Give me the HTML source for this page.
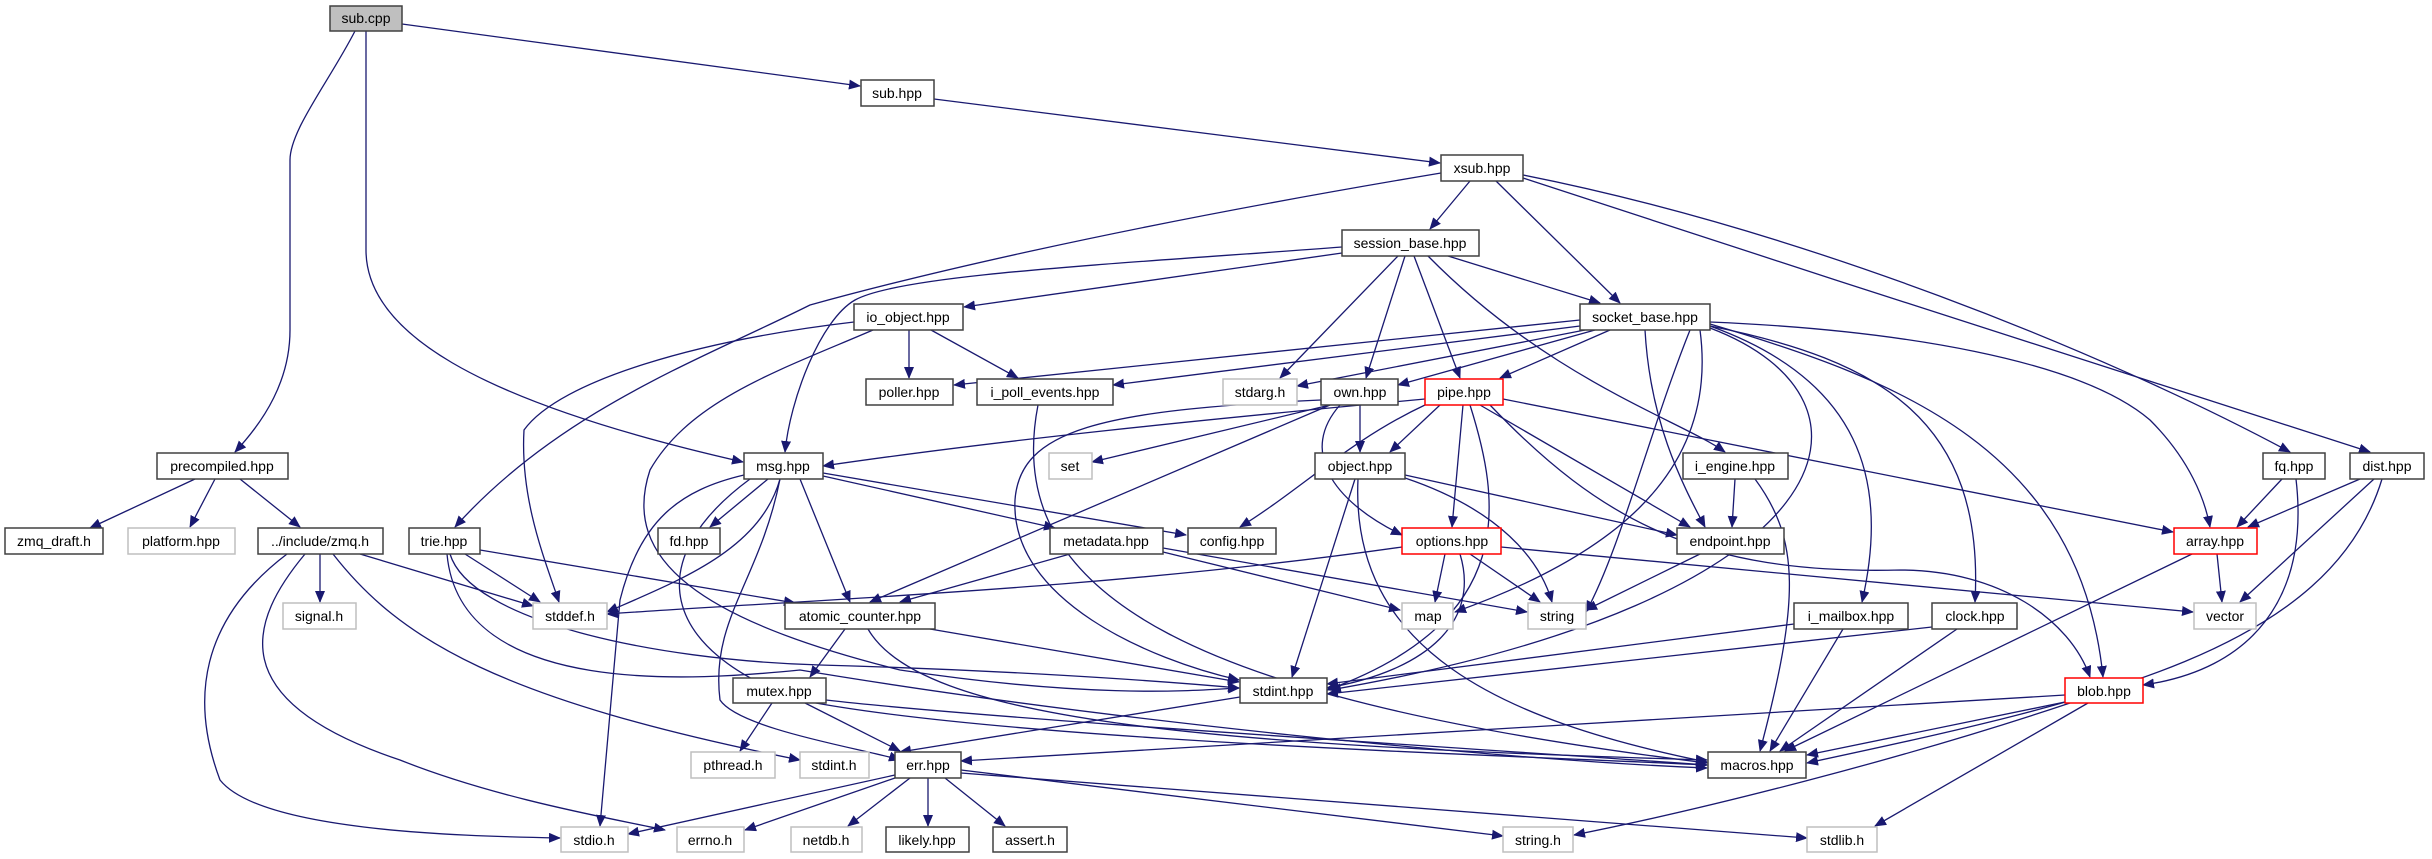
<!DOCTYPE html>
<html><head><meta charset="utf-8"><style>
html,body{margin:0;padding:0;background:#fff;}
svg{display:block;}
text{font-family:"Liberation Sans",sans-serif;font-size:14px;text-anchor:middle;fill:#000;}
.e{fill:none;stroke:#191970;stroke-width:1.3;marker-end:url(#a);}
.n{fill:#fff;stroke:#404040;stroke-width:1.5;}
.g{fill:#fff;stroke:#bfbfbf;stroke-width:1.5;}
.r{fill:#fff;stroke:#ff0000;stroke-width:1.5;}
</style></head><body>
<svg width="2432" height="859" viewBox="0 0 2432 859" xmlns="http://www.w3.org/2000/svg">
<defs><marker id="a" markerUnits="userSpaceOnUse" markerWidth="12" markerHeight="10" refX="11" refY="5" orient="auto"><path d="M0,0 L12,5 L0,10 z" fill="#191970"/></marker></defs>
<g>
<path class="e" d="M402,24 L860,86"/>
<path class="e" d="M355,31 C330,80 290,130 290,160 L290,330 C290,380 265,420 235,452"/>
<path class="e" d="M366,31 L366,250 C366,330 470,400 743,462"/>
<path class="e" d="M934,99 L1440,163"/>
<path class="e" d="M1470,181 L1430,229"/>
<path class="e" d="M1496,181 L1620,303"/>
<path class="e" d="M1441,173 C1100,230 900,280 810,305 C700,360 560,410 455,527"/>
<path class="e" d="M1523,175 C1800,230 2100,350 2290,452"/>
<path class="e" d="M1523,178 C1800,270 2150,380 2370,452"/>
<path class="e" d="M1342,253 L964,307"/>
<path class="e" d="M1342,247 C1100,265 900,275 855,300 C820,320 790,400 785,452"/>
<path class="e" d="M1398,256 L1280,378"/>
<path class="e" d="M1405,256 L1366,378"/>
<path class="e" d="M1414,256 L1460,378"/>
<path class="e" d="M1448,256 L1600,303"/>
<path class="e" d="M1428,256 C1550,380 1680,420 1725,452"/>
<path class="e" d="M909,330 L909,378"/>
<path class="e" d="M931,330 L1018,378"/>
<path class="e" d="M854,322 C700,340 560,380 524,430 C520,500 545,560 559,602"/>
<path class="e" d="M873,330 C780,370 690,400 650,470 C620,560 700,620 900,670 C1100,700 1200,690 1239,688"/>
<path class="e" d="M1580,320 L954,385"/>
<path class="e" d="M1580,326 L1113,385"/>
<path class="e" d="M1585,330 L1297,386"/>
<path class="e" d="M1595,330 L1398,385"/>
<path class="e" d="M1610,330 L1500,378"/>
<path class="e" d="M1645,330 C1650,420 1680,480 1705,527"/>
<path class="e" d="M1710,322 C1900,330 2080,360 2150,420 C2190,460 2205,500 2210,527"/>
<path class="e" d="M1710,324 C1900,380 2080,450 2103,677"/>
<path class="e" d="M1710,326 C1880,360 1985,420 1975,602"/>
<path class="e" d="M1710,326 C1860,380 1890,480 1862,602"/>
<path class="e" d="M1690,330 C1650,430 1620,550 1586,612"/>
<path class="e" d="M1700,330 C1720,480 1600,560 1455,612"/>
<path class="e" d="M1710,328 C1900,400 1850,600 1330,690"/>
<path class="e" d="M1038,405 C1000,600 1200,700 1707,763"/>
<path class="e" d="M1330,405 L1092,462"/>
<path class="e" d="M1360,405 L1360,452"/>
<path class="e" d="M1340,405 C1300,450 1330,500 1402,535"/>
<path class="e" d="M1330,405 L870,602"/>
<path class="e" d="M1321,400 C1100,410 1020,430 1015,500 C1010,600 1150,660 1239,680"/>
<path class="e" d="M1425,399 C1200,420 1000,440 823,466"/>
<path class="e" d="M1440,405 L1390,452"/>
<path class="e" d="M1463,405 L1452,527"/>
<path class="e" d="M1503,399 L2173,532"/>
<path class="e" d="M1425,405 C1350,440 1300,490 1240,527"/>
<path class="e" d="M1480,405 L1690,527"/>
<path class="e" d="M1470,405 C1500,500 1520,620 1327,690"/>
<path class="e" d="M1490,405 C1600,520 1700,575 1900,570 C2000,570 2070,620 2090,677"/>
<path class="e" d="M195,479 L90,528"/>
<path class="e" d="M215,479 L190,527"/>
<path class="e" d="M240,479 L300,527"/>
<path class="e" d="M768,479 L710,527"/>
<path class="e" d="M780,479 C760,550 680,580 607,612"/>
<path class="e" d="M823,473 L1186,535"/>
<path class="e" d="M823,476 L1055,528"/>
<path class="e" d="M800,479 L850,602"/>
<path class="e" d="M780,479 C760,580 710,620 720,700 C740,730 870,750 900,760"/>
<path class="e" d="M744,475 C680,490 640,520 620,600 L600,826"/>
<path class="e" d="M750,479 C640,560 660,650 800,700 C1000,740 1500,755 1707,765"/>
<path class="e" d="M1405,475 L1677,535"/>
<path class="e" d="M1405,478 C1500,510 1540,560 1552,602"/>
<path class="e" d="M1355,479 L1292,677"/>
<path class="e" d="M1358,479 C1350,650 1500,720 1707,762"/>
<path class="e" d="M1735,479 L1732,527"/>
<path class="e" d="M1755,479 C1800,540 1800,600 1760,751"/>
<path class="e" d="M2282,479 L2237,527"/>
<path class="e" d="M2296,479 C2310,600 2250,670 2143,685"/>
<path class="e" d="M2360,479 L2248,527"/>
<path class="e" d="M2374,479 L2240,602"/>
<path class="e" d="M2382,479 C2330,650 2100,700 1807,763"/>
<path class="e" d="M320,554 L320,602"/>
<path class="e" d="M360,554 L533,606"/>
<path class="e" d="M333,554 C400,640 500,700 800,760"/>
<path class="e" d="M305,554 C250,620 220,700 400,760 C500,800 620,820 665,830"/>
<path class="e" d="M287,554 C200,620 190,700 220,780 C260,830 450,836 560,838"/>
<path class="e" d="M465,554 L540,602"/>
<path class="e" d="M480,550 L795,603"/>
<path class="e" d="M450,554 C470,620 650,660 820,665 C1000,670 1150,680 1239,688"/>
<path class="e" d="M447,554 C460,700 700,680 800,670 C1100,720 1500,760 1707,768"/>
<path class="e" d="M1070,554 L900,602"/>
<path class="e" d="M1163,552 L1400,610"/>
<path class="e" d="M1163,548 L1527,612"/>
<path class="e" d="M1402,547 C1100,590 800,600 607,614"/>
<path class="e" d="M1445,554 L1435,602"/>
<path class="e" d="M1470,554 L1540,602"/>
<path class="e" d="M1460,554 C1480,620 1430,670 1327,688"/>
<path class="e" d="M1501,547 L2193,612"/>
<path class="e" d="M1700,554 L1586,610"/>
<path class="e" d="M2217,554 L2222,602"/>
<path class="e" d="M2192,554 L1785,751"/>
<path class="e" d="M930,629 L1239,682"/>
<path class="e" d="M845,629 L810,677"/>
<path class="e" d="M868,629 C920,720 1200,745 1707,760"/>
<path class="e" d="M1794,624 L1327,684"/>
<path class="e" d="M1843,629 L1770,751"/>
<path class="e" d="M1932,627 L1327,694"/>
<path class="e" d="M1957,629 L1780,751"/>
<path class="e" d="M772,703 L740,751"/>
<path class="e" d="M805,703 L900,751"/>
<path class="e" d="M826,700 C1000,720 1500,750 1707,765"/>
<path class="e" d="M1240,697 L900,752"/>
<path class="e" d="M2065,702 L1807,755"/>
<path class="e" d="M2065,695 L961,761"/>
<path class="e" d="M2070,703 C1900,760 1700,810 1574,835"/>
<path class="e" d="M2088,703 L1875,826"/>
<path class="e" d="M895,775 L628,834"/>
<path class="e" d="M895,778 L745,830"/>
<path class="e" d="M910,778 L848,826"/>
<path class="e" d="M928,778 L928,826"/>
<path class="e" d="M945,778 L1005,826"/>
<path class="e" d="M961,770 L1503,836"/>
<path class="e" d="M961,773 L1807,838"/>
</g>
<g>
<rect x="330" y="6" width="72" height="25" fill="#bfbfbf" stroke="#404040" stroke-width="1.5"/><text x="366" y="23">sub.cpp</text>
<rect class="n" x="861" y="80" width="73" height="26"/><text x="897" y="98">sub.hpp</text>
<rect class="n" x="1441" y="155" width="82" height="26"/><text x="1482" y="173">xsub.hpp</text>
<rect class="n" x="1342" y="230" width="137" height="26"/><text x="1410" y="248">session_base.hpp</text>
<rect class="n" x="854" y="304" width="109" height="26"/><text x="908" y="322">io_object.hpp</text>
<rect class="n" x="1580" y="304" width="130" height="26"/><text x="1645" y="322">socket_base.hpp</text>
<rect class="n" x="866" y="379" width="87" height="26"/><text x="909" y="397">poller.hpp</text>
<rect class="n" x="977" y="379" width="136" height="26"/><text x="1045" y="397">i_poll_events.hpp</text>
<rect class="g" x="1223" y="379" width="74" height="26"/><text x="1260" y="397">stdarg.h</text>
<rect class="n" x="1321" y="379" width="77" height="26"/><text x="1360" y="397">own.hpp</text>
<rect class="r" x="1425" y="379" width="78" height="26"/><text x="1464" y="397">pipe.hpp</text>
<rect class="n" x="157" y="453" width="131" height="26"/><text x="222" y="471">precompiled.hpp</text>
<rect class="n" x="744" y="453" width="79" height="26"/><text x="783" y="471">msg.hpp</text>
<rect class="g" x="1049" y="453" width="43" height="26"/><text x="1070" y="471">set</text>
<rect class="n" x="1315" y="453" width="90" height="26"/><text x="1360" y="471">object.hpp</text>
<rect class="n" x="1683" y="453" width="105" height="26"/><text x="1735" y="471">i_engine.hpp</text>
<rect class="n" x="2263" y="453" width="62" height="26"/><text x="2294" y="471">fq.hpp</text>
<rect class="n" x="2350" y="453" width="74" height="26"/><text x="2387" y="471">dist.hpp</text>
<rect class="n" x="5" y="528" width="98" height="26"/><text x="54" y="546">zmq_draft.h</text>
<rect class="g" x="128" y="528" width="107" height="26"/><text x="181" y="546">platform.hpp</text>
<rect class="n" x="258" y="528" width="125" height="26"/><text x="320" y="546">../include/zmq.h</text>
<rect class="n" x="409" y="528" width="71" height="26"/><text x="444" y="546">trie.hpp</text>
<rect class="n" x="658" y="528" width="62" height="26"/><text x="689" y="546">fd.hpp</text>
<rect class="n" x="1050" y="528" width="113" height="26"/><text x="1106" y="546">metadata.hpp</text>
<rect class="n" x="1188" y="528" width="88" height="26"/><text x="1232" y="546">config.hpp</text>
<rect class="r" x="1402" y="528" width="99" height="26"/><text x="1452" y="546">options.hpp</text>
<rect class="n" x="1677" y="528" width="107" height="26"/><text x="1730" y="546">endpoint.hpp</text>
<rect class="r" x="2174" y="528" width="83" height="26"/><text x="2215" y="546">array.hpp</text>
<rect class="g" x="283" y="603" width="73" height="26"/><text x="319" y="621">signal.h</text>
<rect class="g" x="533" y="603" width="74" height="26"/><text x="570" y="621">stddef.h</text>
<rect class="n" x="785" y="603" width="150" height="26"/><text x="860" y="621">atomic_counter.hpp</text>
<rect class="g" x="1402" y="603" width="51" height="26"/><text x="1428" y="621">map</text>
<rect class="g" x="1528" y="603" width="58" height="26"/><text x="1557" y="621">string</text>
<rect class="n" x="1794" y="603" width="114" height="26"/><text x="1851" y="621">i_mailbox.hpp</text>
<rect class="n" x="1932" y="603" width="85" height="26"/><text x="1975" y="621">clock.hpp</text>
<rect class="g" x="2194" y="603" width="62" height="26"/><text x="2225" y="621">vector</text>
<rect class="n" x="733" y="678" width="93" height="25"/><text x="779" y="696">mutex.hpp</text>
<rect class="n" x="1240" y="678" width="87" height="25"/><text x="1283" y="696">stdint.hpp</text>
<rect class="r" x="2065" y="678" width="78" height="25"/><text x="2104" y="696">blob.hpp</text>
<rect class="g" x="691" y="752" width="84" height="26"/><text x="733" y="770">pthread.h</text>
<rect class="g" x="800" y="752" width="69" height="26"/><text x="834" y="770">stdint.h</text>
<rect class="n" x="895" y="752" width="66" height="26"/><text x="928" y="770">err.hpp</text>
<rect class="n" x="1708" y="752" width="98" height="26"/><text x="1757" y="770">macros.hpp</text>
<rect class="g" x="561" y="827" width="67" height="25"/><text x="594" y="845">stdio.h</text>
<rect class="g" x="677" y="827" width="67" height="25"/><text x="710" y="845">errno.h</text>
<rect class="g" x="791" y="827" width="71" height="25"/><text x="826" y="845">netdb.h</text>
<rect class="n" x="886" y="827" width="83" height="25"/><text x="927" y="845">likely.hpp</text>
<rect class="n" x="993" y="827" width="74" height="25"/><text x="1030" y="845">assert.h</text>
<rect class="g" x="1503" y="827" width="70" height="25"/><text x="1538" y="845">string.h</text>
<rect class="g" x="1807" y="827" width="70" height="25"/><text x="1842" y="845">stdlib.h</text>
</g>
</svg>
</body></html>
